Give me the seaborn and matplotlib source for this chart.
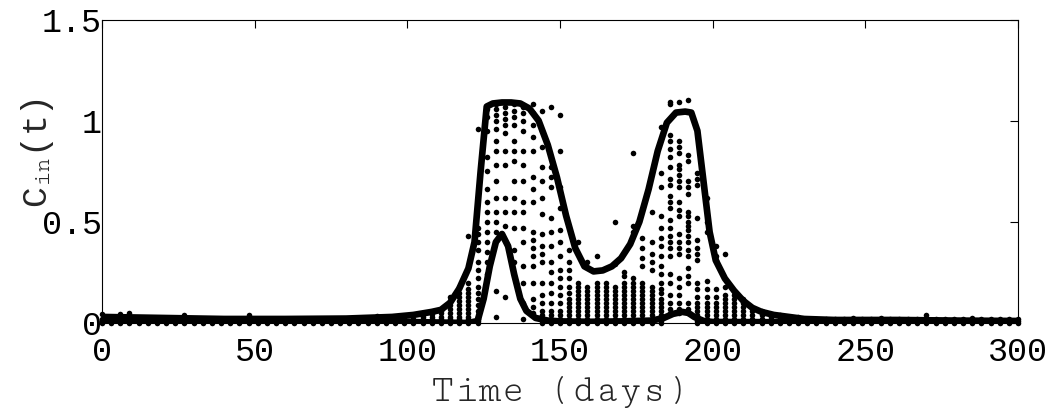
import matplotlib
matplotlib.use('Agg')
import matplotlib.pyplot as plt
import pandas as pd
import seaborn as sns

sns.set_theme(style='white')
plt.rcParams['font.family'] = ['Liberation Mono', 'DejaVu Sans Mono']
# typewriter face for the axis title and the subscript
SERIF_MONO = 'Cutive Mono'
plt.rcParams['mathtext.fontset'] = 'custom'
plt.rcParams['mathtext.rm'] = SERIF_MONO
plt.rcParams['mathtext.it'] = SERIF_MONO

# sampling days (one column of ensemble dots every 3 days)
DAYS = [0, 3, 6, 9, 12, 15, 18, 21, 24, 27, 30, 33, 36, 39, 42, 45, 48, 51, 54, 57,
        60, 63, 66, 69, 72, 75, 78, 81, 84, 87, 90, 93, 96, 99, 102, 105, 108, 111,
        114, 117, 120, 123, 126, 129, 132, 135, 138, 141, 144, 147, 150, 153, 156,
        159, 162, 165, 168, 171, 174, 177, 180, 183, 186, 189, 192, 195, 198, 201,
        204, 207, 210, 213, 216, 219, 222, 225, 228, 231, 234, 237, 240, 243, 246,
        249, 252, 255, 258, 261, 264, 267, 270, 273, 276, 279, 282, 285, 288, 291,
        294, 297, 300]
# days where the ensemble minimum sits above zero (no dots on the baseline)
NO_BASE_DAYS = [126, 129, 132, 135, 138, 141, 186, 189, 192]
BASE_LEVELS = [0.0, 0.01, 0.02]

# dots above the baseline, per day
EXTRA_DAYS = [0, 6, 9, 27, 48, 90, 99, 105, 108, 111, 114, 117, 120, 123, 126, 129,
              132, 135, 138, 141, 144, 147, 150, 153, 156, 159, 162, 165, 168, 171,
              174, 177, 180, 183, 186, 189, 192, 195, 198, 201, 204, 207, 210, 213,
              216, 219, 222, 228, 246, 255, 270, 285]
EXTRA_VALUES = [
    [0.045], [0.045], [0.05], [0.04], [0.04], [0.035], [0.035],
    [0.03, 0.04],
    [0.03, 0.045],
    [0.03, 0.05, 0.06],
    [0.03, 0.05, 0.07, 0.09, 0.11, 0.13],
    [0.03, 0.05, 0.07, 0.09, 0.11, 0.13, 0.15, 0.18],
    [0.03, 0.05, 0.07, 0.09, 0.11, 0.13, 0.15, 0.17, 0.2, 0.43],
    [0.03, 0.06, 0.09, 0.12, 0.15, 0.18, 0.22, 0.26, 0.3, 0.36, 0.4, 0.44, 0.47, 0.96],
    [0.24, 0.3, 0.35, 0.4, 0.45, 0.5, 0.55, 0.6, 0.66, 0.75, 0.82, 0.95, 1.02, 1.06],
    [0.03, 0.16, 0.45, 0.5, 0.55, 0.62, 0.7, 0.78, 0.85, 0.9, 0.96, 1.0, 1.03, 1.06, 1.08],
    [0.13, 0.48, 0.55, 0.62, 0.78, 0.85, 0.94, 0.98, 1.01, 1.04, 1.07],
    [0.3, 0.36, 0.47, 0.55, 0.62, 0.7, 0.8, 0.85, 0.9, 0.98, 1.02, 1.05, 1.08],
    [0.02, 0.1, 0.2, 0.28, 0.4, 0.47, 0.55, 0.6, 0.7, 0.78, 0.85, 0.95, 1.0, 1.04, 1.07],
    [0.05, 0.08, 0.12, 0.2, 0.28, 0.33, 0.37, 0.41, 0.45, 0.6, 0.66, 0.72, 0.85, 0.92, 0.98, 1.04, 1.08],
    [0.04, 0.06, 0.1, 0.14, 0.2, 0.3, 0.34, 0.38, 0.44, 0.54, 0.62, 0.7, 0.77, 0.87, 0.95, 1.05],
    [0.04, 0.06, 0.1, 0.15, 0.2, 0.25, 0.3, 0.38, 0.45, 0.52, 0.67, 0.72, 0.77, 1.07],
    [0.04, 0.06, 0.1, 0.14, 0.18, 0.22, 0.26, 0.33, 0.4, 0.46, 0.57, 0.67, 0.85, 1.03],
    [0.04, 0.06, 0.08, 0.1, 0.12, 0.15, 0.18, 0.22, 0.26, 0.3, 0.36],
    [0.04, 0.06, 0.08, 0.1, 0.12, 0.14, 0.16, 0.18, 0.2, 0.4],
    [0.04, 0.06, 0.08, 0.1, 0.12, 0.14, 0.16, 0.18, 0.3],
    [0.04, 0.06, 0.08, 0.1, 0.12, 0.14, 0.16, 0.18, 0.2, 0.33],
    [0.04, 0.06, 0.08, 0.1, 0.12, 0.14, 0.16, 0.18, 0.2],
    [0.04, 0.06, 0.08, 0.1, 0.12, 0.14, 0.16, 0.18, 0.29, 0.5],
    [0.04, 0.06, 0.08, 0.1, 0.12, 0.14, 0.16, 0.18, 0.2, 0.23, 0.25],
    [0.04, 0.06, 0.08, 0.1, 0.12, 0.14, 0.16, 0.18, 0.2, 0.22, 0.45, 0.48, 0.84],
    [0.04, 0.06, 0.08, 0.1, 0.12, 0.14, 0.16, 0.18, 0.2, 0.28, 0.32, 0.37, 0.42],
    [0.04, 0.06, 0.08, 0.1, 0.12, 0.14, 0.16, 0.18, 0.26, 0.3, 0.34, 0.4, 0.55],
    [0.04, 0.06, 0.08, 0.1, 0.12, 0.15, 0.17, 0.2, 0.24, 0.28, 0.33, 0.38, 0.42, 0.47, 0.53,
     0.67, 0.74, 0.97],
    [0.05, 0.07, 0.1, 0.14, 0.2, 0.24, 0.33, 0.37, 0.4, 0.43, 0.47, 0.51, 0.57, 0.6, 0.63,
     0.68, 0.71, 0.77, 0.82, 0.86, 0.9, 0.93, 1.08, 1.09],
    [0.05, 0.07, 0.1, 0.14, 0.18, 0.22, 0.34, 0.37, 0.4, 0.44, 0.53, 0.56, 0.6, 0.67, 0.7,
     0.73, 0.76, 0.78, 0.84, 0.87, 0.9, 1.09],
    [0.05, 0.07, 0.1, 0.2, 0.23, 0.27, 0.33, 0.36, 0.4, 0.43, 0.46, 0.48, 0.5, 0.53, 0.55,
     0.64, 0.67, 0.7, 0.8, 0.83, 1.1],
    [0.04, 0.06, 0.08, 0.1, 0.13, 0.17, 0.2, 0.31, 0.34, 0.37, 0.41, 0.52, 0.68, 0.71, 0.74],
    [0.04, 0.06, 0.08, 0.1, 0.13, 0.17, 0.21, 0.45, 0.5, 0.62],
    [0.04, 0.06, 0.08, 0.1, 0.13, 0.17, 0.31, 0.33, 0.38],
    [0.04, 0.06, 0.08, 0.1, 0.12, 0.14, 0.18, 0.34],
    [0.04, 0.06, 0.08, 0.1, 0.12, 0.14, 0.16],
    [0.04, 0.06, 0.08, 0.1, 0.12],
    [0.04, 0.06],
    [0.04, 0.06],
    [0.03, 0.04],
    [0.04],
    [0.03],
    [0.025],
    [0.025],
    [0.04],
    [0.025],
]

# ensemble envelope
UPPER_DAYS = [0, 20, 40, 60, 80, 95, 102, 108, 111, 114, 117, 120, 122, 124, 126, 128,
              131, 134, 137, 140, 143, 146, 149, 152, 155, 158, 161, 164, 167, 170, 173,
              176, 179, 182, 185, 188, 191, 193, 195, 197, 199, 201, 204, 207, 210, 213,
              216, 220, 225, 230, 240, 260, 280, 300]
UPPER_VALS = [0.03, 0.025, 0.02, 0.02, 0.022, 0.03, 0.04, 0.055, 0.065, 0.1, 0.17, 0.27,
              0.4, 0.75, 1.07, 1.085, 1.09, 1.09, 1.085, 1.06, 1.0, 0.88, 0.72, 0.53, 0.37,
              0.28, 0.255, 0.26, 0.28, 0.32, 0.39, 0.5, 0.66, 0.85, 0.99, 1.04, 1.045, 1.04,
              0.95, 0.7, 0.45, 0.31, 0.22, 0.16, 0.11, 0.075, 0.055, 0.04, 0.03, 0.02,
              0.015, 0.015, 0.012, 0.01]
LOWER_DAYS = [0, 50, 100, 120, 123, 125, 127, 129, 131, 133, 135, 137, 139, 142, 146, 150,
              160, 170, 180, 184, 187, 190, 192, 194, 197, 200, 220, 260, 300]
LOWER_VALS = [0.012, 0.01, 0.005, 0.0, 0.01, 0.12, 0.28, 0.4, 0.44, 0.38, 0.24, 0.12, 0.06,
              0.025, 0.012, 0.008, 0.006, 0.008, 0.012, 0.025, 0.045, 0.055, 0.05, 0.03,
              0.01, 0.005, 0.004, 0.004, 0.004]


def build_dots():
    xs, ys = [], []
    for d in DAYS:
        if d in NO_BASE_DAYS:
            continue
        for v in BASE_LEVELS:
            xs.append(d)
            ys.append(v)
    for d, vals in zip(EXTRA_DAYS, EXTRA_VALUES):
        for v in vals:
            xs.append(d)
            ys.append(v)
    return pd.DataFrame({'day': xs, 'c': ys})


def main():
    fig = plt.figure(figsize=(10.58, 4.17), dpi=100)
    ax = fig.add_axes([0.0964, 0.2254, 0.8658, 0.7278])

    dots = build_dots()
    sns.scatterplot(data=dots, x='day', y='c', s=16, color='black', linewidth=0,
                    ax=ax, clip_on=False, zorder=3)
    sns.lineplot(x=UPPER_DAYS, y=UPPER_VALS, color='black', lw=4.8, ax=ax,
                 estimator=None, sort=False, zorder=4)
    sns.lineplot(x=LOWER_DAYS, y=LOWER_VALS, color='black', lw=4.8, ax=ax,
                 estimator=None, sort=False, zorder=4)

    ax.set_xlim(0, 300)
    ax.set_ylim(0, 1.5)
    ax.set_xticks([0, 50, 100, 150, 200, 250, 300])
    ax.set_yticks([0, 0.5, 1, 1.5])
    ax.set_yticklabels(['0', '0.5', '1', '1.5'])
    ax.tick_params(direction='in', top=True, right=True, length=6, width=0.8,
                   colors='black', labelsize=24)
    ax.tick_params(axis='x', pad=10)
    ax.tick_params(axis='y', pad=0)
    for s in ax.spines.values():
        s.set_color('black')
        s.set_linewidth(0.8)

    ax.set_xlabel('Time (days)', fontsize=28, fontfamily=SERIF_MONO, labelpad=6)
    ax.set_ylabel(r'C$_{\rm in}$(t)', fontsize=25)
    ax.yaxis.set_label_coords(-0.05, 0.56)

    fig.savefig('out.png', dpi=100)
    plt.close(fig)


if __name__ == '__main__':
    main()
